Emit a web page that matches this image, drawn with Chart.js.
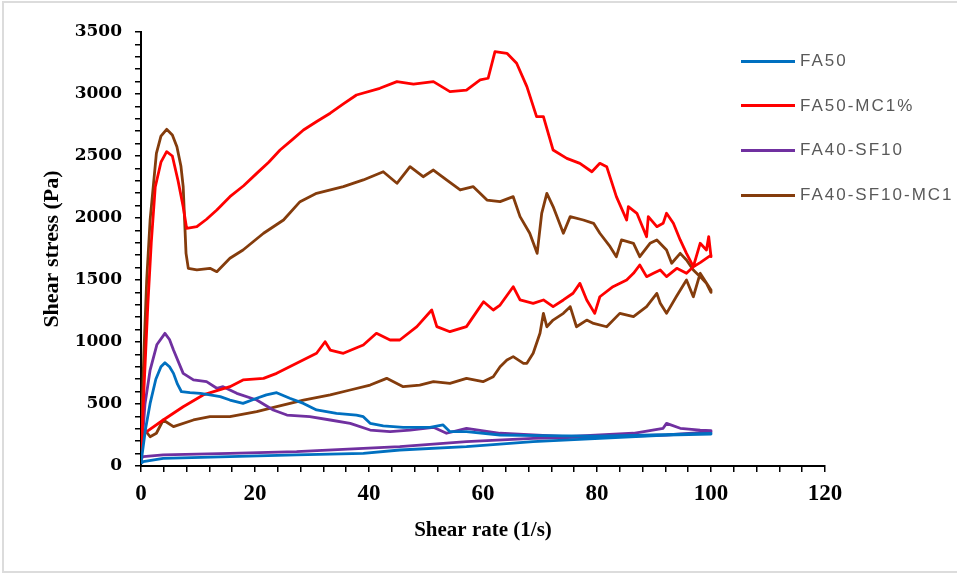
<!DOCTYPE html>
<html>
<head>
<meta charset="utf-8">
<script src="https://cdn.jsdelivr.net/npm/chart.js@4/dist/chart.umd.min.js"></script>
<style>
  html, body { margin: 0; padding: 0; background: #fff; }
  #wrap { position: relative; width: 957px; height: 576px; }
  #frame { position: absolute; left: 2px; top: 1px; width: 960px; height: 572px;
           border-left: 2px solid #dcdcdc; border-top: 2px solid #dcdcdc; border-bottom: 2px solid #dcdcdc; box-sizing: border-box; }
  #legend { position: absolute; left: 741px; top: 0; font-family: "Liberation Sans", Arial, sans-serif;
            font-size: 17px; color: #595959; letter-spacing: 2px; }
  .lg-item { position: absolute; left: 0; white-space: nowrap; }
  .lg-line { position: absolute; left: 0; width: 54px; height: 3px; }
  .lg-text { position: absolute; left: 59px; line-height: 20px; }
</style>
</head>
<body>
<div id="wrap">
  <div id="frame"></div>
  <canvas id="chart" width="957" height="576"></canvas>
  <div id="legend"></div>
</div>
<script>
// shear rate (1/s) / shear stress (Pa) per loop: ramp up to 100 1/s, then back down
const fa50X = [0, 0.8, 1.6, 2.6, 3.5, 4.2, 5.0, 5.7, 6.4, 7.1, 8.6, 10.4, 12.1, 13.9, 15.6, 17.9, 20.3, 22.0, 23.8, 26.1, 28.5, 30.8, 34.3, 37.8, 39.0, 40.2, 42.5, 46.0, 50.7, 53.0, 54.2, 57.1, 63.0, 70, 80, 90, 100,
  100, 92.2, 80.5, 68.8, 57.1, 45.4, 39.0, 27.3, 15.6, 3.9, 0.4, 0];
const fa50Y = [25, 300, 505, 700, 800, 833, 800, 747, 660, 599, 591, 586, 573, 559, 532, 505, 546, 573, 591, 546, 505, 452, 425, 411, 398, 344, 323, 312, 312, 331, 277, 277, 250, 245, 240, 250, 262,
  258, 250, 223, 196, 156, 129, 102, 89, 75, 62, 35, 20];

const fa50mcX = [0, 0.5, 1.2, 1.8, 2.5, 3.5, 4.5, 5.5, 6.5, 7.4, 8.0, 9.8, 11.5, 13.3, 15.6, 18, 20.3, 22.4, 24.4, 26.5, 28.5, 30.9, 33.2, 35.5, 37.8, 41.9, 44.9, 47.8, 51.3, 54.2, 57.1, 59.5, 60.9, 62.1, 64.2, 65.9, 67.7, 69.4, 70.6, 72.3, 74.7, 77.0, 79.1, 80.5, 81.7, 83.4, 85.2, 85.5, 87.0, 88.7, 89.0, 90.5, 91.6, 92.2, 93.4, 94.6, 95.7, 96.9, 98.1, 99.2, 99.6, 100,
  100, 98.1, 96.9, 95.7, 94.0, 92.2, 91.1, 89.9, 88.7, 87.5, 86.4, 85.2, 82.8, 80.5, 79.6, 78.2, 77.0, 75.8, 74.1, 72.3, 70.6, 68.8, 66.5, 65.3, 63.0, 61.8, 60.1, 59.5, 57.1, 54.2, 51.9, 51.0, 48.4, 45.4, 43.7, 41.3, 39.0, 35.5, 33.2, 32.3, 30.8, 27.3, 23.8, 21.5, 17.9, 15.6, 10.9, 7.4, 3.9, 1.0, 0];
const fa50mcY = [25, 600, 1300, 1800, 2250, 2450, 2535, 2500, 2300, 2090, 1917, 1930, 1990, 2065, 2172, 2260, 2360, 2450, 2548, 2630, 2710, 2780, 2845, 2920, 2992, 3046, 3100, 3080, 3100, 3019, 3032, 3113, 3127, 3341, 3328, 3248, 3059, 2817, 2817, 2548, 2481, 2441, 2373, 2441, 2414, 2172, 1984, 2091, 2038, 1849, 2011, 1930, 1957, 2038, 1957, 1823, 1715, 1607, 1796, 1742, 1850, 1688,
  1700, 1640, 1607, 1554, 1594, 1527, 1581, 1554, 1527, 1621, 1554, 1500, 1446, 1365, 1231, 1339, 1473, 1393, 1339, 1285, 1339, 1312, 1339, 1446, 1298, 1258, 1325, 1285, 1124, 1083, 1124, 1258, 1124, 1016, 1016, 1070, 976, 909, 935, 1002, 909, 828, 747, 707, 694, 640, 573, 478, 371, 277, 236];

const fa40sfX = [0, 0.7, 1.6, 2.8, 4.2, 5.0, 5.7, 7.4, 9.2, 11.5, 13.3, 14.4, 16.8, 20.3, 23.2, 25.6, 29.6, 33.2, 36.7, 40.2, 43.7, 47.2, 51.3, 53.6, 57.1, 63.0, 68.8, 74.7, 80.5, 86.4, 91.6, 92.2, 94.6, 98.1, 100,
  100, 92.2, 80.5, 68.8, 57.1, 45.4, 39.0, 27.3, 15.6, 3.9, 0.4, 0];
const fa40sfY = [50, 500, 774, 980, 1070, 1020, 936, 747, 694, 680, 627, 640, 586, 532, 452, 411, 398, 371, 344, 290, 277, 290, 312, 264, 304, 264, 250, 236, 250, 264, 304, 344, 304, 290, 285,
  275, 250, 236, 223, 196, 156, 142, 116, 102, 89, 75, 60];

const fa40mcX = [0, 0.5, 1.0, 1.6, 2.7, 3.5, 4.5, 5.5, 6.3, 7.0, 7.4, 7.9, 8.3, 9.8, 12.1, 13.3, 15.6, 17.9, 21.5, 25.0, 27.9, 30.8, 35.5, 39.0, 42.5, 44.9, 47.2, 49.5, 51.3, 53.6, 56.0, 58.3, 60.7, 63.0, 65.3, 66.5, 68.2, 69.5, 70.3, 71.2, 72.3, 74.1, 75.3, 77.6, 79.4, 80.5, 82.3, 83.4, 84.3, 86.4, 87.5, 89.3, 90.5, 92.2, 93.1, 94.6, 95.7, 96.9, 98.1, 99.2, 100,
  100, 98.1, 96.9, 95.7, 93.9, 92.2, 91.1, 90.5, 88.7, 86.4, 84.0, 81.7, 79.4, 78.2, 76.4, 75.3, 74.1, 72.3, 71.2, 70.6, 70.0, 68.8, 67.7, 67.1, 65.3, 64.2, 63.0, 61.8, 60.0, 57.1, 54.2, 51.3, 48.9, 46.0, 43.1, 40.2, 36.7, 33.2, 28.5, 23.8, 20.3, 15.6, 12.1, 9.2, 5.7, 3.9, 2.7, 1.6, 0.7, 0];
const fa40mcY = [183, 900, 1500, 1984, 2522, 2660, 2715, 2670, 2575, 2420, 2253, 1715, 1594, 1581, 1594, 1567, 1675, 1742, 1877, 1984, 2132, 2199, 2253, 2307, 2373, 2280, 2414, 2333, 2387, 2307, 2226, 2253, 2145, 2132, 2172, 2011, 1877, 1715, 2038, 2199, 2092, 1877, 2011, 1984, 1957, 1877, 1769, 1688, 1823, 1796, 1688, 1796, 1823, 1742, 1635, 1715, 1661, 1581, 1527, 1473, 1400,
  1420, 1554, 1365, 1500, 1365, 1231, 1312, 1392, 1285, 1204, 1231, 1123, 1150, 1177, 1123, 1285, 1231, 1177, 1123, 1231, 1070, 909, 828, 828, 882, 855, 801, 720, 680, 707, 667, 680, 653, 640, 707, 653, 613, 573, 532, 478, 438, 398, 398, 371, 317, 371, 264, 236, 290, 183];

const seriesNames = ['FA50', 'FA50-MC1%', 'FA40-SF10', 'FA40-SF10-MC1'];
const seriesColors = ['#0070C0', '#FF0000', '#7030A0', '#843C0C'];
const seriesX = [fa50X, fa50mcX, fa40sfX, fa40mcX];
const seriesY = [fa50Y, fa50mcY, fa40sfY, fa40mcY];

const datasets = seriesNames.map((name, i) => ({
  label: name,
  data: seriesX[i].map((x, j) => ({ x, y: seriesY[i][j] })),
  borderColor: seriesColors[i],
  backgroundColor: seriesColors[i],
  borderWidth: 2.8,
  borderJoinStyle: 'round',
  showLine: true,
  pointRadius: 0,
  tension: 0,
  fill: false,
}));

// html legend, sits over the right part of the plot like the original
const legend = document.getElementById('legend');
legend.innerHTML = seriesNames.map((name, i) => {
  const cy = 61 + i * 44.7;
  return `<div class="lg-item" style="top:${cy}px">
    <div class="lg-line" style="top:-1.5px;background:${seriesColors[i]}"></div>
    <div class="lg-text" style="top:-10px">${name}</div>
  </div>`;
}).join('');

const serif = '"Liberation Serif", "Times New Roman", serif';

new Chart(document.getElementById('chart'), {
  type: 'scatter',
  data: { datasets },
  options: {
    responsive: false,
    animation: false,
    layout: { padding: { left: 0, top: 32, right: 132, bottom: 0 } },
    plugins: { legend: { display: false }, tooltip: { enabled: false } },
    scales: {
      x: {
        type: 'linear',
        min: 0, max: 120,
        afterFit: s => { s.height = 110; },
        ticks: {
          stepSize: 4, autoSkip: false, maxTicksLimit: 100, maxRotation: 0,
          padding: 8, color: '#000',
          font: { family: serif, size: 23, weight: 'bold' },
          callback: v => (v % 20 === 0 ? String(v) : ''),
        },
        grid: { drawOnChartArea: false, drawTicks: true, tickLength: 6, color: '#000', lineWidth: 1.5 },
        border: { display: true, color: '#000', width: 2 },
        title: {
          display: true, text: 'Shear rate (1/s)', color: '#000',
          font: { family: serif, size: 21, weight: 'bold' },
          padding: { top: 0, bottom: 33 },
        },
      },
      y: {
        type: 'linear',
        min: 0, max: 3500,
        afterFit: s => { s.width = 141; },
        ticks: {
          stepSize: 100, autoSkip: false, maxTicksLimit: 100,
          padding: 13, color: '#000',
          font: { family: '"DejaVu Serif", serif', size: 17, weight: 'bold' },
          callback: v => (v % 500 === 0 ? String(v) : ''),
        },
        grid: { drawOnChartArea: false, drawTicks: true, tickLength: 6, color: '#000', lineWidth: 1.5 },
        border: { display: true, color: '#000', width: 2 },
        title: {
          display: true, text: 'Shear stress (Pa)', color: '#000',
          font: { family: serif, size: 22, weight: 'bold' },
          padding: { top: 39, bottom: 0 },
        },
      },
    },
  },
});
</script>
</body>
</html>
